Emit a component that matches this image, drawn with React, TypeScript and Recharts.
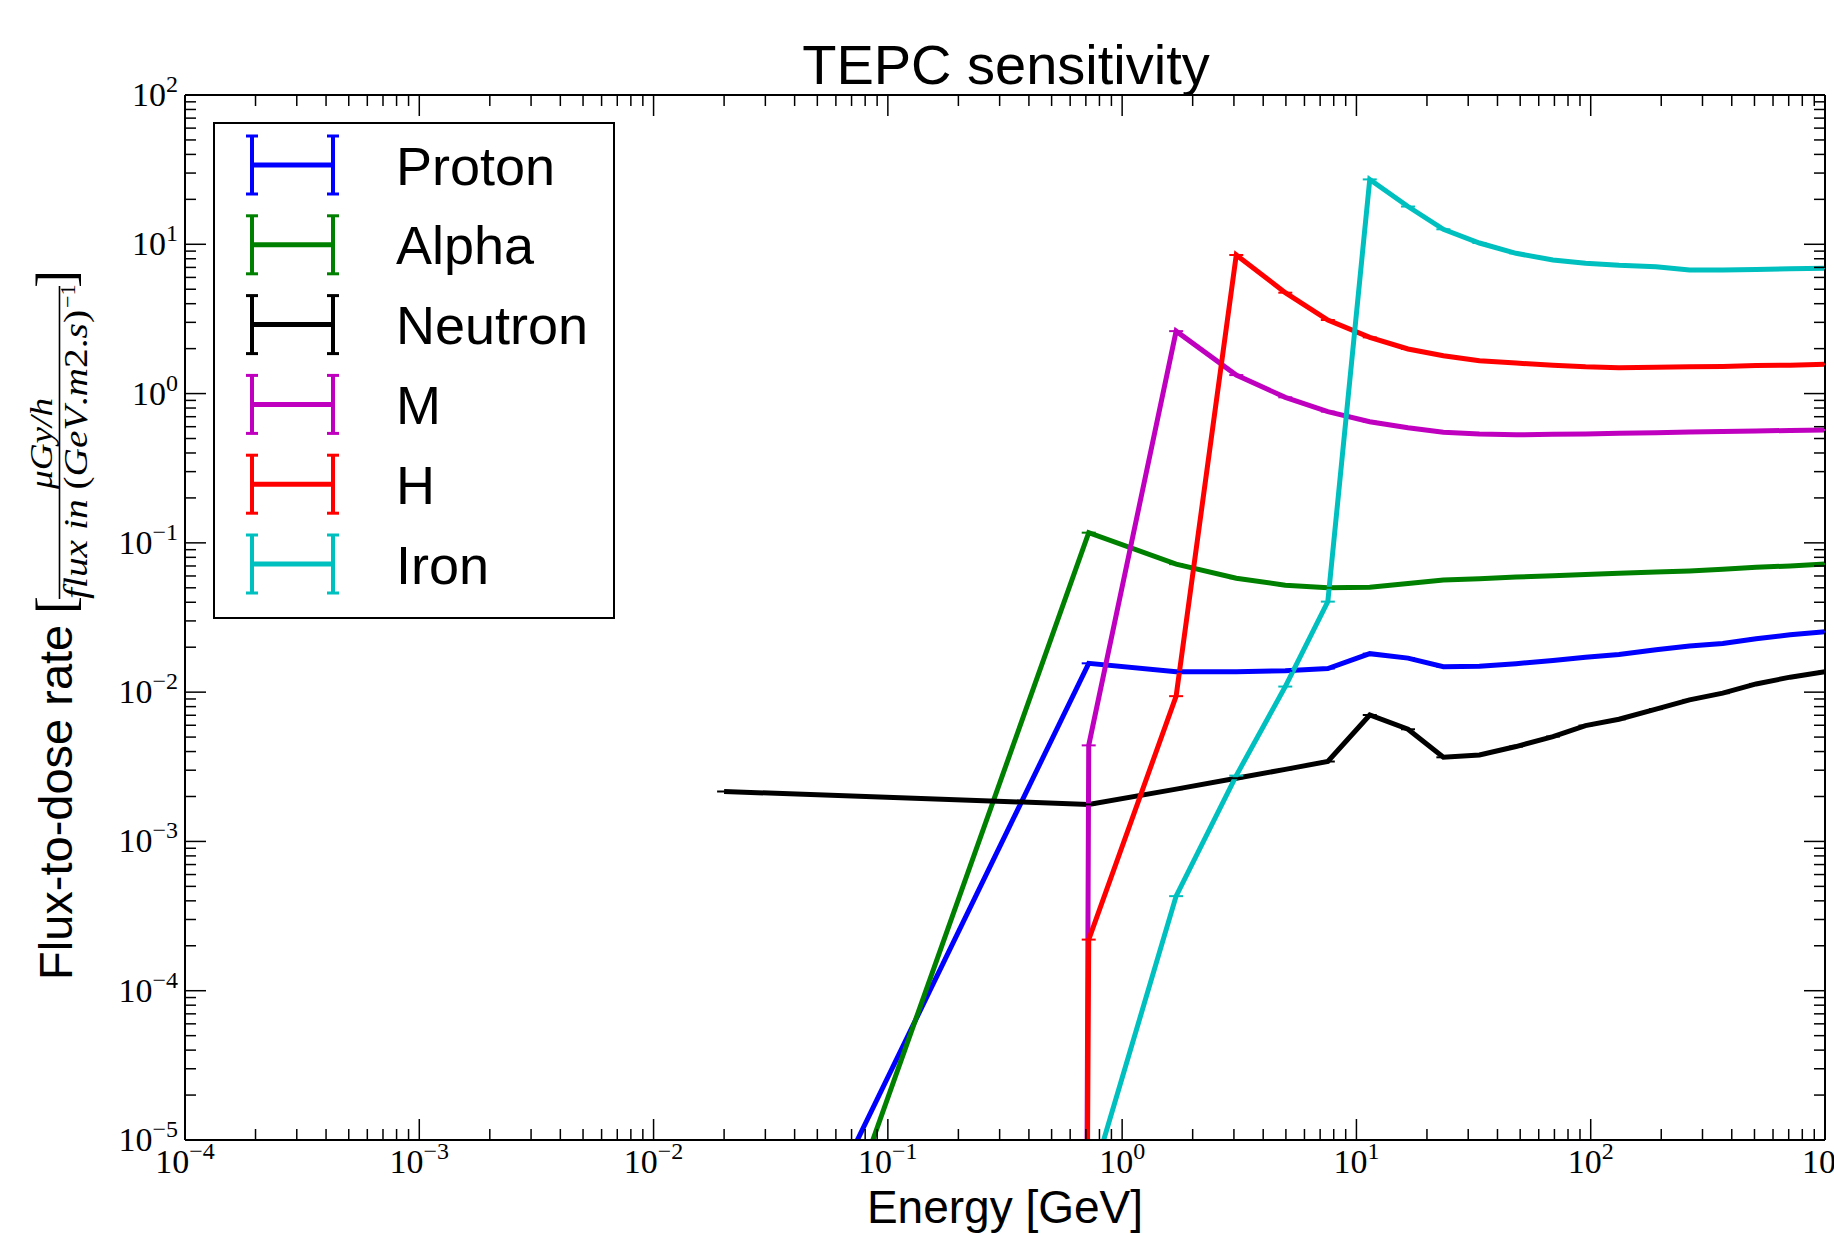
import React from 'react';
import { LineChart, Line, XAxis, YAxis, Customized } from 'recharts';

// ---------- data ----------
const ENERGY_GRID = [0.72, 1.7, 3.07, 4.97, 7.55, 11.4, 16.6, 23.5, 33.5, 48, 69, 95, 132, 190, 264, 366, 508, 710, 1000];

const PROTON_E = [0.05, ...ENERGY_GRID];
const PROTON_V = [2.8e-6, 0.0156, 0.0137, 0.0137, 0.0139, 0.0144, 0.0181, 0.0169, 0.0148, 0.0149, 0.0155, 0.0163, 0.0171, 0.0179, 0.0192, 0.0204, 0.0212, 0.0228, 0.0242, 0.0254];

const ALPHA_E = [0.05, ...ENERGY_GRID];
const ALPHA_V = [9e-7, 0.117, 0.072, 0.058, 0.052, 0.05, 0.0505, 0.0535, 0.0564, 0.0575, 0.059, 0.0603, 0.0614, 0.0625, 0.0637, 0.0648, 0.0665, 0.0686, 0.07, 0.0722];

const NEUTRON_E = [0.02, ...ENERGY_GRID];
const NEUTRON_V = [0.00216, 0.00177, 0.00224, 0.00265, 0.00304, 0.00343, 0.00703, 0.00564, 0.00366, 0.00379, 0.00432, 0.00504, 0.00597, 0.00658, 0.0077, 0.00887, 0.00984, 0.01135, 0.0126, 0.0137];

const M_E = [0.7, ...ENERGY_GRID];
const M_V = [1e-7, 0.0044, 2.62, 1.33, 0.944, 0.757, 0.648, 0.591, 0.55, 0.536, 0.53, 0.533, 0.537, 0.542, 0.547, 0.553, 0.557, 0.562, 0.566, 0.57];

const H_E = [0.7, ...ENERGY_GRID];
const H_V = [1e-7, 2.2e-4, 0.0094, 8.48, 4.74, 3.11, 2.38, 1.99, 1.79, 1.66, 1.6, 1.55, 1.51, 1.49, 1.5, 1.51, 1.52, 1.54, 1.55, 1.57];

const IRON_E = [...ENERGY_GRID];
const IRON_V = [4.6e-6, 4.3e-4, 0.00276, 0.0109, 0.0404, 27.2, 17.9, 12.6, 10.2, 8.7, 7.85, 7.46, 7.23, 7.08, 6.72, 6.72, 6.79, 6.85, 6.91];

const SERIES_NAMES = ['Proton', 'Alpha', 'Neutron', 'M', 'H', 'Iron'];
const SERIES_COLORS = ['#0000ff', '#008000', '#000000', '#bf00bf', '#ff0000', '#00bfbf'];

const X_MAJOR = [1e-4, 1e-3, 1e-2, 1e-1, 1, 10, 100, 1000];
const Y_MAJOR = [1e-5, 1e-4, 1e-3, 1e-2, 1e-1, 1, 10, 100];
const MINOR_MULT = [2, 3, 4, 5, 6, 7, 8, 9];

const TITLE = 'TEPC sensitivity';
const X_LABEL = 'Energy [GeV]';
const Y_LABEL_MAIN = 'Flux-to-dose rate';

// ---------- helpers ----------
const zip = (es: number[], vs: number[]) => es.map((e, i) => ({ e, v: vs[i] }));
const withMinor = (majors: number[]) => {
  const out: number[] = [];
  majors.forEach((m, i) => {
    out.push(m);
    if (i < majors.length - 1) MINOR_MULT.forEach((k) => out.push(Number((m * k).toPrecision(6))));
  });
  return out;
};
const X_TICKS = withMinor(X_MAJOR);
const Y_TICKS = withMinor(Y_MAJOR);

const SERIES = [
  zip(PROTON_E, PROTON_V),
  zip(ALPHA_E, ALPHA_V),
  zip(NEUTRON_E, NEUTRON_V),
  zip(M_E, M_V),
  zip(H_E, H_V),
  zip(IRON_E, IRON_V),
];

const SANS = '"Liberation Sans", Arial, Helvetica, sans-serif';
const SERIF = '"Liberation Serif", "Times New Roman", serif';

const W = 1834;
const H = 1233;
// plot area: x 185..1825, y 95..1140
const AX_B = 60; // bottom axis height
const AX_L = 60; // left axis width
const AX_T = 10; // top axis height
const AX_R = 9; // right axis width
const MARGIN = { top: 95 - AX_T, right: 9 - AX_R, bottom: 93 - AX_B, left: 185 - AX_L };

const isMajor = (v: number) => {
  const lg = Math.log10(v);
  return Math.abs(lg - Math.round(lg)) < 1e-6;
};
const expText = (v: number) => {
  const e = Math.round(Math.log10(v));
  return e < 0 ? '\u2212' + Math.abs(e) : String(e);
};

const MAJ = 21;
const MIN = 11;

const BottomTick = (props: any) => {
  const { x, y, payload } = props;
  const major = isMajor(payload.value);
  return (
    <g>
      <line x1={x} x2={x} y1={y} y2={y - (major ? MAJ : MIN)} stroke="#000" strokeWidth={1.5} />
      {major && (
        <text x={x} y={y + 33} textAnchor="middle" fontFamily={SERIF} fontSize={34} fill="#000">
          <tspan>10</tspan>
          <tspan dy={-14} fontSize={24}>{expText(payload.value)}</tspan>
        </text>
      )}
    </g>
  );
};
const TopTick = (props: any) => {
  const { x, y, payload } = props;
  const major = isMajor(payload.value);
  return <line x1={x} x2={x} y1={y} y2={y + (major ? MAJ : MIN)} stroke="#000" strokeWidth={1.5} />;
};
const LeftTick = (props: any) => {
  const { x, y, payload } = props;
  const major = isMajor(payload.value);
  return (
    <g>
      <line x1={x} x2={x + (major ? MAJ : MIN)} y1={y} y2={y} stroke="#000" strokeWidth={1.5} />
      {major && (
        <text x={x - 7} y={y + 11} textAnchor="end" fontFamily={SERIF} fontSize={34} fill="#000">
          <tspan>10</tspan>
          <tspan dy={-14} fontSize={24}>{expText(payload.value)}</tspan>
        </text>
      )}
    </g>
  );
};
const RightTick = (props: any) => {
  const { x, y, payload } = props;
  const major = isMajor(payload.value);
  return <line x1={x} x2={x - (major ? MAJ : MIN)} y1={y} y2={y} stroke="#000" strokeWidth={1.5} />;
};

const makeCap = (color: string) => (props: any) => {
  const { cx, cy, index } = props;
  if (cx == null || cy == null || !isFinite(cx) || !isFinite(cy)) return <g key={'c' + index} />;
  return <line key={'c' + index} x1={cx - 7} x2={cx + 7} y1={cy} y2={cy} stroke={color} strokeWidth={2} />;
};

const Overlay = () => {
  const rowY = (i: number) => 165 + i * 79.8;
  return (
    <g>
      {/* title */}
      <text x={1006} y={84} textAnchor="middle" fontFamily={SANS} fontSize={56} fill="#000">
        {TITLE}
      </text>
      {/* x label */}
      <text x={1005} y={1223} textAnchor="middle" fontFamily={SANS} fontSize={46} fill="#000">
        {X_LABEL}
      </text>
      {/* y label (rotated) */}
      <g transform="rotate(-90)">
        <text x={-980} y={72} fontFamily={SANS} fontSize={47} fill="#000">
          {Y_LABEL_MAIN}
        </text>
        <text x={-614} y={74} fontFamily={SERIF} fontSize={54} fill="#000">[</text>
        <text x={-489} y={52} fontFamily={SERIF} fontSize={32} fontStyle="italic" fill="#000" textLength={91} lengthAdjust="spacingAndGlyphs">
          μGy/h
        </text>
        <line x1={-599} x2={-286} y1={59.5} y2={59.5} stroke="#000" strokeWidth={1.6} />
        <text x={-599} y={87} fontFamily={SERIF} fontSize={34} fill="#000" textLength={289} lengthAdjust="spacingAndGlyphs">
          <tspan fontStyle="italic">flux in </tspan>
          <tspan>(</tspan>
          <tspan fontStyle="italic">GeV</tspan>
          <tspan>.</tspan>
          <tspan fontStyle="italic">m</tspan>
          <tspan>2.</tspan>
          <tspan fontStyle="italic">s</tspan>
          <tspan>)</tspan>
        </text>
        <text x={-308} y={75} fontFamily={SERIF} fontSize={22} fill="#000">{'\u22121'}</text>
        <text x={-288} y={74} fontFamily={SERIF} fontSize={54} fill="#000">]</text>
      </g>
      {/* legend */}
      <rect x={214} y={123} width={400} height={495} fill="#fff" stroke="#000" strokeWidth={2} />
      {SERIES_NAMES.map((name, i) => {
        const cy = rowY(i);
        const c = SERIES_COLORS[i];
        return (
          <g key={name}>
            <line x1={250} x2={334} y1={cy} y2={cy} stroke={c} strokeWidth={5} />
            {[252, 333].map((bx) => (
              <g key={bx}>
                <line x1={bx} x2={bx} y1={cy - 29} y2={cy + 29} stroke={c} strokeWidth={4} />
                <line x1={bx - 6} x2={bx + 6} y1={cy - 29} y2={cy - 29} stroke={c} strokeWidth={3} />
                <line x1={bx - 6} x2={bx + 6} y1={cy + 29} y2={cy + 29} stroke={c} strokeWidth={3} />
              </g>
            ))}
            <text x={396} y={cy + 19.5} fontFamily={SANS} fontSize={54} fill="#000">
              {name}
            </text>
          </g>
        );
      })}
    </g>
  );
};

export default function App() {
  return (
    <div style={{ position: 'absolute', left: 0, top: 0, width: W, height: H, background: '#fff' }}>
      <LineChart width={W} height={H} margin={MARGIN}>
        <XAxis
          dataKey="e"
          type="number"
          scale="log"
          domain={[1e-4, 1000]}
          allowDataOverflow
          ticks={X_TICKS}
          interval={0}
          height={AX_B}
          tickSize={0}
          tickMargin={0}
          tickLine={false}
          tick={BottomTick}
          axisLine={{ stroke: '#000', strokeWidth: 2 }}
        />
        <XAxis
          xAxisId="top"
          orientation="top"
          dataKey="e"
          type="number"
          scale="log"
          domain={[1e-4, 1000]}
          allowDataOverflow
          ticks={X_TICKS}
          interval={0}
          height={AX_T}
          tickSize={0}
          tickMargin={0}
          tickLine={false}
          tick={TopTick}
          axisLine={{ stroke: '#000', strokeWidth: 2 }}
        />
        <YAxis
          type="number"
          scale="log"
          domain={[1e-5, 100]}
          allowDataOverflow
          ticks={Y_TICKS}
          interval={0}
          width={AX_L}
          tickSize={0}
          tickMargin={0}
          tickLine={false}
          tick={LeftTick}
          axisLine={{ stroke: '#000', strokeWidth: 2 }}
        />
        <YAxis
          yAxisId="right"
          orientation="right"
          type="number"
          scale="log"
          domain={[1e-5, 100]}
          allowDataOverflow
          ticks={Y_TICKS}
          interval={0}
          width={AX_R}
          tickSize={0}
          tickMargin={0}
          tickLine={false}
          tick={RightTick}
          axisLine={{ stroke: '#000', strokeWidth: 2 }}
        />
        {SERIES.map((d, i) => (
          <Line
            key={SERIES_NAMES[i]}
            data={d}
            dataKey="v"
            name={SERIES_NAMES[i]}
            type="linear"
            stroke={SERIES_COLORS[i]}
            strokeWidth={5}
            dot={makeCap(SERIES_COLORS[i])}
            activeDot={false}
            isAnimationActive={false}
          />
        ))}
        <Customized component={Overlay} />
      </LineChart>
    </div>
  );
}
